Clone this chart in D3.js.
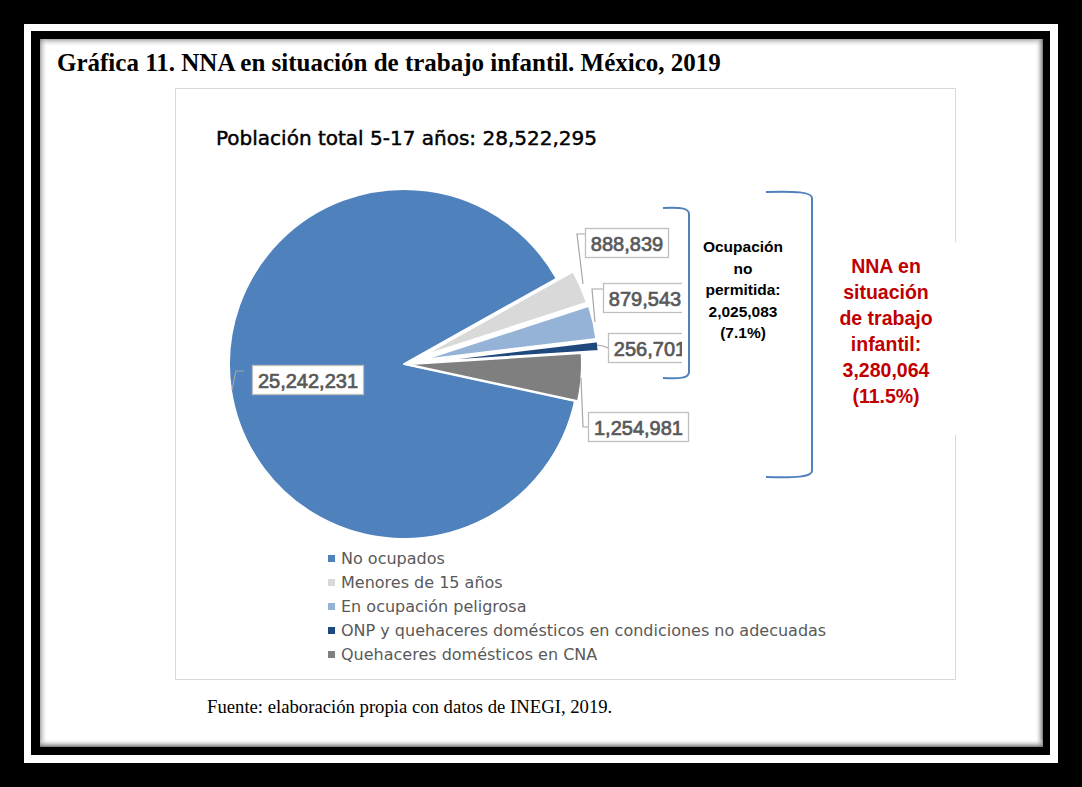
<!DOCTYPE html>
<html>
<head>
<meta charset="utf-8">
<script src="https://cdn.jsdelivr.net/npm/d3@7"></script>
<style>
  html, body { margin: 0; padding: 0; background: #000; }
  svg { display: block; }
</style>
</head>
<body>
<svg id="chart" width="1082" height="787"></svg>
<script>
// ---------------- DATA ----------------
const categories = [
  "No ocupados",
  "Menores de 15 años",
  "En ocupación peligrosa",
  "ONP y quehaceres domésticos en condiciones no adecuadas",
  "Quehaceres domésticos en CNA"
];
const values = [25242231, 888839, 879543, 256701, 1254981];
const valueLabels = ["25,242,231", "888,839", "879,543", "256,701", "1,254,981"];
const colors = ["#4f81bd", "#d9d9d9", "#95b3d7", "#1f497d", "#7f7f7f"];

const titleText = "Gráfica 11. NNA en situación de trabajo infantil. México, 2019";
const subtitleText = "Población total 5-17 años: 28,522,295";
const ocupLines = ["Ocupación", "no", "permitida:", "2,025,083", "(7.1%)"];
const nnaLines = ["NNA en", "situación", "de trabajo", "infantil:", "3,280,064", "(11.5%)"];
const sourceText = "Fuente: elaboración propia con datos de INEGI, 2019.";

// ---------------- LAYOUT ----------------
const svg = d3.select("#chart");
const cx = 404, cy = 364, R = 175;
const firstSliceAngle = 102.2;           // degrees, clockwise from 12 o'clock
const explode = [0, 18, 19, 20, 3];      // px offset per slice

// frame
svg.append("rect").attr("x", 0).attr("y", 0).attr("width", 1082).attr("height", 787).attr("fill", "#000");
svg.append("rect").attr("x", 24).attr("y", 24).attr("width", 1034).attr("height", 739).attr("fill", "#fff");
svg.append("rect").attr("x", 31).attr("y", 31).attr("width", 1019).attr("height", 724).attr("fill", "#000");
svg.append("rect").attr("x", 40).attr("y", 39).attr("width", 1003).attr("height", 708).attr("fill", "#fff");

const defs = svg.append("defs");
function grad(id, x1, y1, x2, y2, op) {
  const g = defs.append("linearGradient").attr("id", id)
    .attr("x1", x1).attr("y1", y1).attr("x2", x2).attr("y2", y2);
  g.append("stop").attr("offset", "0%").attr("stop-color", "#6e6e6e").attr("stop-opacity", op);
  g.append("stop").attr("offset", "100%").attr("stop-color", "#ffffff").attr("stop-opacity", 0);
}
grad("gTop", 0, 0, 0, 1, 0.6);
grad("gLeft", 0, 0, 1, 0, 0.6);
grad("gRight", 1, 0, 0, 0, 0.95);
grad("gBottom", 0, 1, 0, 0, 0.95);
svg.append("rect").attr("x", 40).attr("y", 39).attr("width", 1003).attr("height", 8).attr("fill", "url(#gTop)");
svg.append("rect").attr("x", 40).attr("y", 39).attr("width", 8).attr("height", 708).attr("fill", "url(#gLeft)");
svg.append("rect").attr("x", 1035).attr("y", 39).attr("width", 8).attr("height", 708).attr("fill", "url(#gRight)");
svg.append("rect").attr("x", 40).attr("y", 739).attr("width", 1003).attr("height", 8).attr("fill", "url(#gBottom)");

// title
svg.append("text").attr("x", 57).attr("y", 71)
  .attr("font-family", "'Liberation Serif','Times New Roman',serif")
  .attr("font-weight", "bold").attr("font-size", 25).attr("fill", "#000")
  .text(titleText);

// chart area
svg.append("rect").attr("x", 175.5).attr("y", 88.5).attr("width", 780).attr("height", 591)
  .attr("fill", "#fff").attr("stroke", "#d9d9d9").attr("stroke-width", 1);

// subtitle
svg.append("text").attr("x", 216).attr("y", 145)
  .attr("font-family", "'DejaVu Sans',sans-serif").attr("font-size", 20).attr("fill", "#000")
  .attr("stroke", "#000").attr("stroke-width", 0.45)
  .text(subtitleText);

// pie
const rad = d => d * Math.PI / 180;
const pie = d3.pie().sort(null).value(d => d)
  .startAngle(rad(firstSliceAngle)).endAngle(rad(firstSliceAngle + 360));
const arcs = pie(values);
const arc = d3.arc().innerRadius(0).outerRadius(R);

const gPie = svg.append("g").attr("transform", `translate(${cx},${cy})`);
gPie.selectAll("path").data(arcs).enter().append("path")
  .attr("d", arc)
  .attr("transform", (d, i) => {
    const m = (d.startAngle + d.endAngle) / 2;
    return `translate(${explode[i] * Math.sin(m)},${-explode[i] * Math.cos(m)})`;
  })
  .attr("fill", (d, i) => colors[i])
  .attr("stroke", "#fff").attr("stroke-width", 2).attr("stroke-linejoin", "round");

// leader lines
const leaders = [
  [[244, 371], [236, 371], [232, 390]],
  [[585, 234], [577, 234], [583, 284]],
  [[603, 289], [592, 289], [595, 322]],
  [[597, 345], [603, 346], [608, 348]],
  [[581, 378], [583, 427], [588, 427]]
];
const line = d3.line();
svg.selectAll("path.leader").data(leaders).enter().append("path")
  .attr("class", "leader").attr("d", line)
  .attr("fill", "none").attr("stroke", "#a6a6a6").attr("stroke-width", 1.2);

// data label boxes
const labelBoxes = [
  { x: 252, y: 365, w: 111 },
  { x: 585, y: 228, w: 83 },
  { x: 603, y: 283, w: 83 },
  { x: 608, y: 333, w: 83 },
  { x: 588, y: 412, w: 100 }
];
const gLab = svg.append("g");
labelBoxes.forEach((b, i) => {
  gLab.append("rect").attr("x", b.x + 0.5).attr("y", b.y + 0.5).attr("width", b.w).attr("height", 29)
    .attr("fill", "#fff").attr("stroke", "#bfbfbf").attr("stroke-width", 1.3);
  gLab.append("text").attr("x", b.x + b.w / 2 + 0.5).attr("y", b.y + 22.5)
    .attr("text-anchor", "middle")
    .attr("font-family", "'Liberation Sans',Arial,sans-serif")
    .attr("font-size", 20).attr("fill", "#595959")
    .attr("stroke", "#595959").attr("stroke-width", 0.7)
    .text(valueLabels[i]);
});

// white text box of "Ocupación no permitida" (covers label box ends)
svg.append("rect").attr("x", 682).attr("y", 270).attr("width", 78).attr("height", 100).attr("fill", "#fff");
// white text box of red note (covers chart border)
svg.append("rect").attr("x", 822).attr("y", 242).attr("width", 138).attr("height", 193).attr("fill", "#fff");

// brackets
svg.append("path")
  .attr("d", "M663,208 C680,207 689,208 689,214 L689,372 C689,378 680,379 663,378")
  .attr("fill", "none").attr("stroke", "#4f81bd").attr("stroke-width", 2);
svg.append("path")
  .attr("d", "M766,192 C795,191 812,192 812,198 L812,471 C812,477 795,478 766,477")
  .attr("fill", "none").attr("stroke", "#4f81bd").attr("stroke-width", 2);

// Ocupación text
const tOc = svg.append("text").attr("text-anchor", "middle")
  .attr("font-family", "'Liberation Sans',Arial,sans-serif").attr("font-weight", "bold")
  .attr("font-size", 15.5).attr("fill", "#000");
ocupLines.forEach((s, i) => tOc.append("tspan").attr("x", 743).attr("y", 252 + i * 21.5).text(s));

// red text
const tN = svg.append("text").attr("text-anchor", "middle")
  .attr("font-family", "'Liberation Sans',Arial,sans-serif").attr("font-weight", "bold")
  .attr("font-size", 19.5).attr("fill", "#c00000");
nnaLines.forEach((s, i) => tN.append("tspan").attr("x", 886).attr("y", 273 + i * 26).text(s));

// legend
const gLeg = svg.append("g");
categories.forEach((c, i) => {
  const y = 564 + i * 24;
  gLeg.append("rect").attr("x", 328).attr("y", y - 9).attr("width", 7).attr("height", 7).attr("fill", colors[i]);
  gLeg.append("text").attr("x", 341).attr("y", y)
    .attr("font-family", "'DejaVu Sans',sans-serif").attr("font-size", 16).attr("fill", "#595959")
    .text(c);
});

// source
svg.append("text").attr("x", 207).attr("y", 713)
  .attr("font-family", "'Liberation Serif','Times New Roman',serif")
  .attr("font-size", 18.7).attr("fill", "#000")
  .text(sourceText);
</script>
</body>
</html>
